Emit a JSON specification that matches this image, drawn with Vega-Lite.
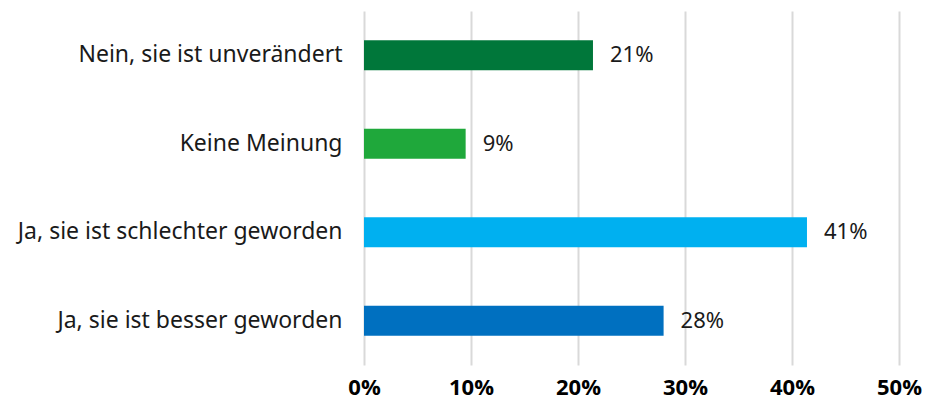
{
  "$schema": "https://vega.github.io/schema/vega-lite/v6.json",
  "autosize": "none",
  "width": 535,
  "height": 354,
  "padding": {"left": 364, "top": 11, "right": 29, "bottom": 40},
  "background": "white",
  "config": {"view": {"stroke": null}, "font": "Noto Sans"},
  "data": {
    "values": [
      {"cat": "Nein, sie ist unverändert", "value": 0.214, "label": "21%", "color": "#00773A"},
      {"cat": "Keine Meinung", "value": 0.095, "label": "9%", "color": "#1FA83B"},
      {"cat": "Ja, sie ist schlechter geworden", "value": 0.414, "label": "41%", "color": "#00B0F0"},
      {"cat": "Ja, sie ist besser geworden", "value": 0.28, "label": "28%", "color": "#0070C0"}
    ]
  },
  "encoding": {
    "y": {
      "field": "cat",
      "type": "nominal",
      "sort": null,
      "title": null,
      "scale": {"paddingInner": 0.661, "paddingOuter": 0.33},
      "axis": {"domain": false, "ticks": false, "labelFontSize": 23, "labelColor": "#1a1a1a", "labelPadding": 22, "labelFont": "Noto Sans", "labelLimit": 400}
    },
    "x": {
      "field": "value",
      "type": "quantitative",
      "title": null,
      "scale": {"domain": [0, 0.5], "nice": false},
      "axis": {"format": ".0%", "values": [0, 0.1, 0.2, 0.3, 0.4, 0.5], "domain": false, "ticks": false, "grid": true, "gridColor": "#d9d9d9", "gridWidth": 2, "labelFontSize": 22, "labelFontWeight": "bold", "labelFont": "Open Sans", "labelColor": "#000000", "labelPadding": 12, "labelFlush": false}
    }
  },
  "layer": [
    {
      "mark": {"type": "bar"},
      "encoding": {"color": {"field": "color", "type": "nominal", "scale": null, "legend": null}}
    },
    {
      "mark": {"type": "text", "align": "left", "baseline": "middle", "dx": 17, "fontSize": 22, "color": "#1a1a1a", "font": "Noto Sans"},
      "encoding": {"text": {"field": "label"}}
    }
  ]
}
